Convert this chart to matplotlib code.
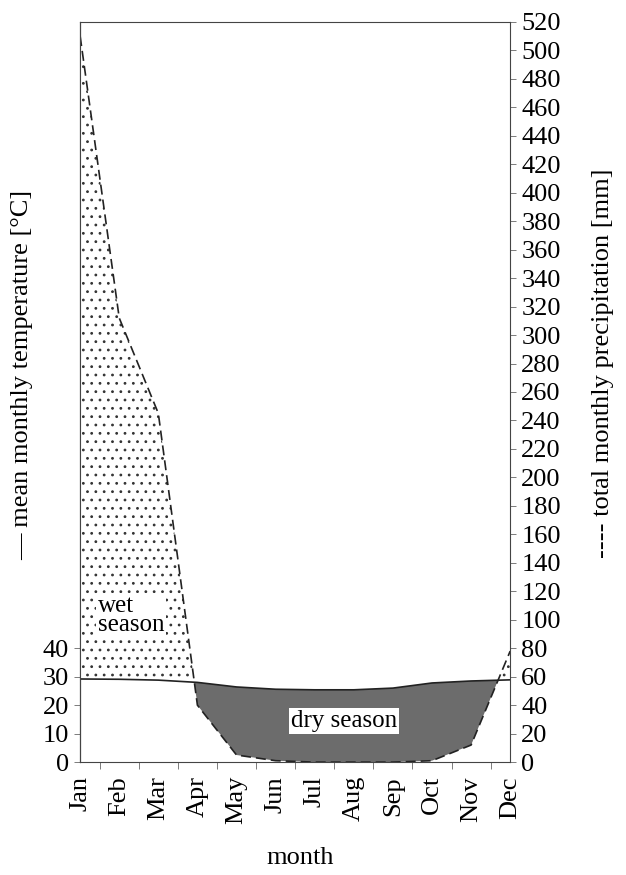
import matplotlib
matplotlib.use("Agg")
import matplotlib.pyplot as plt
import numpy as np

plt.rcParams['font.family'] = ['Liberation Serif', 'DejaVu Serif']
plt.rcParams['hatch.linewidth'] = 0.8

# monthly climate data
months = ["Jan", "Feb", "Mar", "Apr", "May", "Jun",
          "Jul", "Aug", "Sep", "Oct", "Nov", "Dec"]
temperature = [29.2, 29.1, 28.8, 28.0, 26.4, 25.6, 25.4, 25.4, 26.0, 27.8, 28.5, 28.9]  # °C
precipitation = [510, 312, 245, 40, 5, 1, 0, 0, 0, 1, 12, 78]  # mm

precip_ticks = list(range(0, 521, 20))
temp_ticks = [0, 10, 20, 30, 40]

x = np.arange(len(months))
prec = np.array(precipitation, dtype=float)
temp_mm = np.array(temperature) * 2  # 10 °C = 20 mm

fig = plt.figure(figsize=(6.26, 8.75), dpi=100)
ax = fig.add_axes([0.128, 0.129, 0.687, 0.846])

# wet season (precipitation above temperature curve)
ax.fill_between(x, temp_mm, prec, where=prec >= temp_mm, interpolate=True,
                facecolor="white", hatch="..", edgecolor="#333333", linewidth=0)
# dry season
ax.fill_between(x, temp_mm, prec, where=prec <= temp_mm, interpolate=True,
                facecolor="#6c6c6c", edgecolor="none", linewidth=0)

ax.plot(x, temp_mm, color="#222222", lw=1.2)
ax.plot(x, prec, color="#222222", lw=1.2, dashes=(6, 3))

ax.set_xlim(0, 11)
ax.set_ylim(0, 520)

# precipitation axis on the right
ax.yaxis.tick_right()
ax.set_yticks(precip_ticks)

# temperature axis on the left
sec = ax.secondary_yaxis("left", functions=(lambda v: v / 2, lambda t: t * 2))
sec.set_yticks(temp_ticks)
sec.tick_params(labelsize=19, length=4, width=0.6, color="#666666", pad=4)
sec.spines["left"].set_linewidth(0.8)

ax.set_xticks(x)
ax.set_xticklabels(months, rotation=90, fontsize=19)
ax.set_xticks(x[:-1] + 0.5, minor=True)
ax.tick_params(axis="x", which="major", length=0, pad=10)
ax.tick_params(axis="x", which="minor", length=5, width=0.6, color="#666666")
ax.tick_params(axis="y", labelsize=19, length=4, width=0.6, color="#666666", pad=4)

for s in ax.spines.values():
    s.set_linewidth(0.8)
    s.set_color("#444444")

fig.text(0.036, 0.572, "— mean monthly temperature [°C]", fontsize=19,
         rotation=90, ha="center", va="center")
fig.text(0.963, 0.585, "---- total monthly precipitation [mm]", fontsize=19,
         rotation=90, ha="center", va="center")
fig.text(0.48, 0.019, "month", fontsize=19, ha="center", va="center")

box = dict(facecolor="white", edgecolor="none", pad=1.5)
ax.text(0.45, 103, "wet\nseason", fontsize=18, ha="left", va="center",
        linespacing=0.85, bbox=box)
ax.text(6.75, 29, "dry season", fontsize=18, ha="center", va="center", bbox=box)

fig.savefig("out.png", dpi=100)
